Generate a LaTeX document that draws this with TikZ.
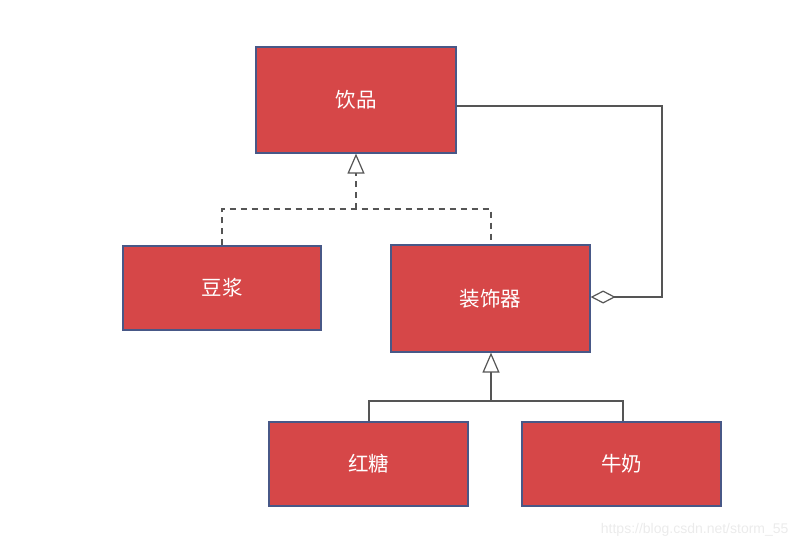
\documentclass[tikz,border=0pt]{standalone}
\usepackage{fontspec}
\newfontfamily\cjk{Noto Sans CJK SC}
\usetikzlibrary{arrows.meta}
\definecolor{boxred}{RGB}{214,71,72}
\definecolor{boxedge}{RGB}{72,88,135}
\definecolor{linegray}{RGB}{85,85,85}
\begin{document}
\begin{tikzpicture}[x=1pt,y=-1pt,
  cls/.style={draw=boxedge,line width=1.2pt,fill=boxred,text=white,
    font=\cjk\fontsize{20.5}{24}\selectfont,inner sep=0pt,anchor=center},
  conn/.style={draw=linegray,line width=1.2pt},
  dashconn/.style={conn,dash pattern=on 6pt off 5pt},
  inh/.style={-{Triangle[open,length=20pt,width=17pt,line width=1.2pt]}},
  agg/.style={-{Diamond[open,length=25pt,width=13pt,line width=1.2pt]}}]
\useasboundingbox (0,0) rectangle (801,550);
\node[cls,minimum width=200pt,minimum height=106pt] (drink) at (356,100) {饮品};
\node[cls,minimum width=198pt,minimum height=84pt] (soy) at (222,288) {豆浆};
\node[cls,minimum width=199pt,minimum height=107pt] (deco) at (490.5,298.5) {装饰器};
\node[cls,minimum width=199pt,minimum height=84pt] (sugar) at (368.5,464) {红糖};
\node[cls,minimum width=199pt,minimum height=84pt] (milk) at (621.5,464) {牛奶};
\coordinate (j1) at (356,209);
\coordinate (j2) at (491,401);
% dashed realization
\draw[dashconn] (soy.north -| 222,0) |- (j1) -| (deco.north -| 491,0);
\draw[dashconn,inh] (j1) -- (drink.south -| j1);
% aggregation
\coordinate (c1) at (662,106);
\coordinate (c2) at (662,297);
\draw[conn,agg] (drink.east |- c1) -- (c1) -- (c2) -- (deco.east |- c2);
% inheritance
\draw[conn] (sugar.north -| 369,0) |- (j2) -| (milk.north -| 623,0);
\draw[conn,inh] (j2) -- (deco.south -| j2);
\node[text=black!8,font=\fontspec{Liberation Sans}\fontsize{14}{16}\selectfont,anchor=east] (wm) at (792,530) {https://blog.csdn.net/storm\_55};
\end{tikzpicture}
\end{document}
